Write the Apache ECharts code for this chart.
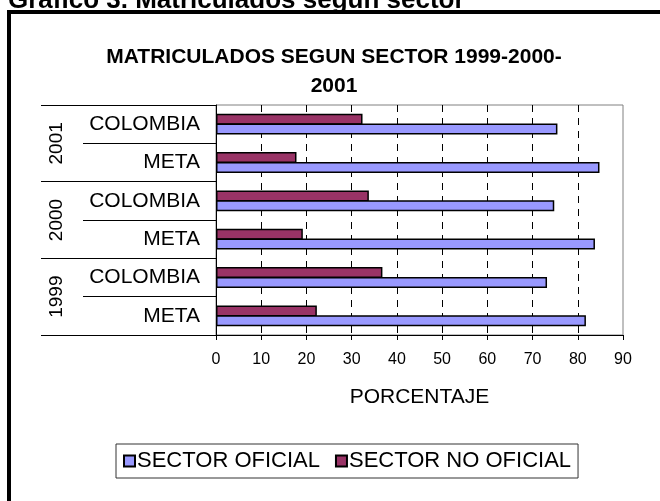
<!DOCTYPE html>
<html>
<head>
<meta charset="utf-8">
<script src="https://cdn.jsdelivr.net/npm/echarts@6/dist/echarts.min.js"></script>
<style>
  html, body { margin: 0; padding: 0; background: #fff; }
  #main { width: 660px; height: 501px; }
</style>
</head>
<body>
<div id="main"></div>
<script>
// categorias de abajo hacia arriba
var lugares = ['META', 'COLOMBIA', 'META', 'COLOMBIA', 'META', 'COLOMBIA'];
var anios = ['1999', '2000', '2001'];
var sectorOficial = [81.8, 73.2, 83.8, 74.8, 84.8, 75.5];
var sectorNoOficial = [22.3, 36.8, 19.2, 33.8, 17.8, 32.4];
var ticksX = [0, 10, 20, 30, 40, 50, 60, 70, 80, 90];

var fuente = '"Liberation Sans", Arial, sans-serif';
var gridBox = { left: 216, top: 105, right: 37, bottom: 166 };

var myChart = echarts.init(document.getElementById('main'));
myChart.setOption({
  backgroundColor: '#fff',
  animation: false,
  textStyle: { fontFamily: fuente, color: '#000' },
  title: {
    text: 'MATRICULADOS SEGUN SECTOR 1999-2000-\n2001',
    left: 334,
    top: 43,
    padding: 0,
    textAlign: 'center',
    textStyle: { fontSize: 21, fontWeight: 'bold', lineHeight: 29, color: '#000', fontFamily: fuente }
  },
  graphic: [{
    type: 'rect',
    shape: { x: 9, y: 12, width: 700, height: 600 },
    style: { fill: null, stroke: '#000', lineWidth: 4 },
    silent: true
  }, {
    type: 'text',
    left: 8,
    top: -12,
    style: { text: 'Gráfico 3. Matriculados según sector', font: 'bold 26px ' + fuente, fill: '#000' }
  }],
  legend: {
    data: ['SECTOR OFICIAL', 'SECTOR NO OFICIAL'],
    left: 116,
    top: 444,
    padding: [6, 7, 6, 7],
    borderColor: '#333',
    borderWidth: 1,
    itemWidth: 11,
    itemHeight: 11,
    itemGap: 15,
    icon: 'rect',
    textStyle: { fontSize: 22, color: '#000', fontFamily: fuente, padding: [0, 0, 0, -3] }
  },
  grid: [
    Object.assign({ show: true, borderColor: '#808080', borderWidth: 1, backgroundColor: 'transparent' }, gridBox),
    Object.assign({ show: false }, gridBox)
  ],
  xAxis: [{
    type: 'value',
    gridIndex: 0,
    min: 0,
    max: 90,
    interval: 10,
    name: 'PORCENTAJE',
    nameLocation: 'middle',
    nameGap: 52,
    nameTextStyle: { fontSize: 21, color: '#000', fontFamily: fuente },
    axisLine: { show: true, lineStyle: { color: '#000', width: 1 } },
    axisTick: { show: true, length: 5, lineStyle: { color: '#000' } },
    axisLabel: {
      fontSize: 16, color: '#000', margin: 17, fontFamily: fuente,
      formatter: function (v) { return ticksX.indexOf(v) >= 0 ? String(v) : ''; }
    },
    splitLine: {
      show: true,
      showMinLine: false,
      showMaxLine: false,
      lineStyle: { color: '#000', width: 1, type: [7, 6] }
    }
  }, {
    type: 'value',
    gridIndex: 1,
    min: 0,
    max: 90,
    show: false
  }],
  yAxis: [{
    type: 'category',
    gridIndex: 0,
    position: 'left',
    data: lugares,
    axisLine: { show: true, lineStyle: { color: '#000', width: 1 } },
    axisTick: { show: true, length: 133, interval: 0, lineStyle: { color: '#000' } },
    axisLabel: { fontSize: 21, color: '#000', margin: 16, fontFamily: fuente },
    splitLine: { show: false }
  }, {
    type: 'category',
    gridIndex: 1,
    position: 'left',
    data: anios,
    axisLine: { show: false },
    axisTick: { show: true, length: 175, interval: 0, lineStyle: { color: '#000' } },
    axisLabel: { fontSize: 19, color: '#000', rotate: 90, margin: 150, fontFamily: fuente },
    splitLine: { show: false }
  }],
  series: [{
    name: 'SECTOR NO OFICIAL',
    type: 'bar',
    xAxisIndex: 0,
    yAxisIndex: 0,
    barWidth: 11,
    barGap: '-10%',
    itemStyle: { color: '#993366', borderColor: '#000', borderWidth: 1.5 },
    data: sectorNoOficial
  }, {
    name: 'SECTOR OFICIAL',
    type: 'bar',
    xAxisIndex: 0,
    yAxisIndex: 0,
    barWidth: 11,
    barGap: '-10%',
    itemStyle: { color: '#9999FF', borderColor: '#000', borderWidth: 1.5 },
    data: sectorOficial
  }]
});
</script>
</body>
</html>
